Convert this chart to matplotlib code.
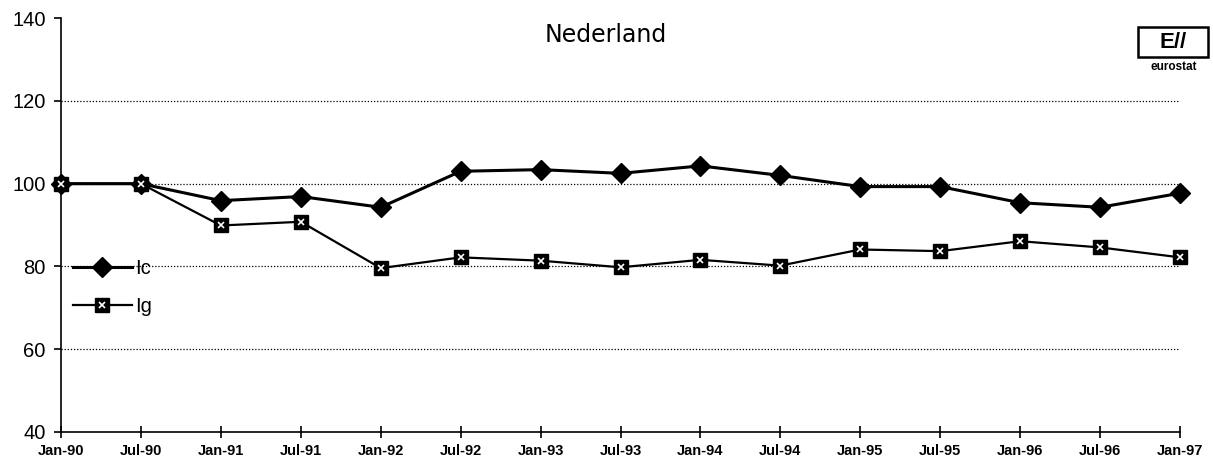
"""Nederland: Ic vs Ig index, Jan-90 to Jan-97."""

import matplotlib
matplotlib.use("Agg")
import matplotlib.pyplot as plt
from matplotlib.legend_handler import HandlerTuple
from matplotlib.patches import Rectangle

plt.rcParams["font.family"] = ["Liberation Sans", "DejaVu Sans"]

periods = ["Jan-90", "Jul-90", "Jan-91", "Jul-91", "Jan-92", "Jul-92", "Jan-93", "Jul-93",
           "Jan-94", "Jul-94", "Jan-95", "Jul-95", "Jan-96", "Jul-96", "Jan-97"]
ic_values = [100, 100, 95.9, 96.9, 94.3, 103.0, 103.4, 102.5, 104.3, 102.0, 99.3, 99.3, 95.4, 94.3, 97.7]
ig_values = [100, 100, 89.9, 90.8, 79.6, 82.2, 81.4, 79.8, 81.6, 80.2, 84.1, 83.7, 86.1, 84.6, 82.2]
y_ticks = [40, 60, 80, 100, 120, 140]


def main() -> None:
    fig = plt.figure(figsize=(12.13, 4.66), dpi=100)
    ax = fig.add_axes([0.0503, 0.073, 0.9225, 0.888])
    x = list(range(len(periods)))

    for g in [60, 80, 100, 120]:
        ax.axhline(g, color="black", lw=0.9, ls=(0, (1, 1.5)), zorder=1)

    (ic_line,) = ax.plot(x, ic_values, color="black", lw=2.2, marker="D", ms=10.5,
                         mfc="black", mec="black", zorder=3, clip_on=False)
    (ig_line,) = ax.plot(x, ig_values, color="black", lw=1.6, marker="s", ms=10,
                         mfc="black", mec="black", zorder=3, clip_on=False)
    (ig_dots,) = ax.plot(x, ig_values, ls="none", marker="x", ms=5, mew=1.2,
                         color="white", zorder=4, clip_on=False)

    ax.set_xlim(0, len(periods) - 1)
    ax.set_ylim(40, 140)
    ax.set_yticks(y_ticks)
    ax.set_yticklabels([str(v) for v in y_ticks], fontsize=14.5)
    ax.set_xticks(x)
    ax.set_xticklabels(periods, fontsize=10.5, fontweight="bold")
    ax.tick_params(axis="x", direction="inout", length=9, width=1.2, pad=4)
    ax.tick_params(axis="y", direction="out", length=5, width=1.2, pad=6)
    for side in ["top", "right"]:
        ax.spines[side].set_visible(False)
    for side in ["left", "bottom"]:
        ax.spines[side].set_linewidth(1.2)

    ax.text(0.487, 0.96, "Nederland", transform=ax.transAxes, ha="center", va="center",
            fontsize=17, family="DejaVu Sans")

    ax.legend([ic_line, (ig_line, ig_dots)], ["Ic", "Ig"],
              handler_map={tuple: HandlerTuple(ndivide=1)},
              loc="upper left", bbox_to_anchor=(0.0, 0.448), frameon=False,
              fontsize=14.5, handlelength=2.9, handletextpad=0.2, labelspacing=0.95,
              borderaxespad=0.2)

    # eurostat logo, roughly
    fig.add_artist(Rectangle((1138 / 1213, 1 - 57 / 466), 70 / 1213, 30 / 466,
                             transform=fig.transFigure, fc="white", ec="black", lw=1.8))
    fig.text(1173 / 1213, 1 - 42 / 466, "E//", ha="center", va="center", fontsize=16,
             fontweight="bold")
    fig.text(1174 / 1213, 1 - 67 / 466, "eurostat", ha="center", va="center", fontsize=8.5,
             fontweight="bold")

    fig.savefig("out.png", dpi=100)
    plt.close(fig)


if __name__ == "__main__":
    main()
